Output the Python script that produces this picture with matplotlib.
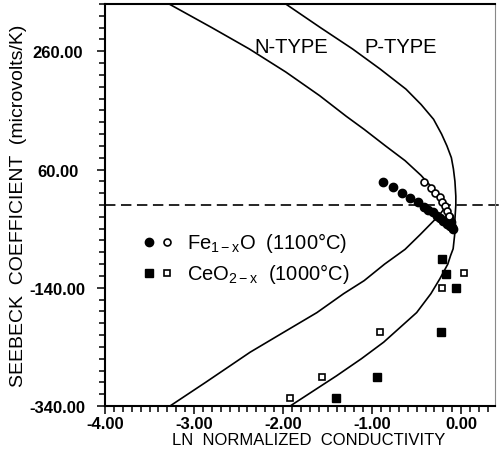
import matplotlib
matplotlib.use("Agg")
import matplotlib.pyplot as plt
from matplotlib.ticker import MultipleLocator, FormatStrFormatter

plt.rcParams['font.family'] = ['Liberation Sans', 'DejaVu Sans']
plt.rcParams['mathtext.fontset'] = 'custom'
plt.rcParams['mathtext.rm'] = 'Liberation Sans'
plt.rcParams['mathtext.it'] = 'Liberation Sans:italic'
plt.rcParams['mathtext.bf'] = 'Liberation Sans:bold'
plt.rcParams['mathtext.default'] = 'regular'
plt.rcParams['lines.scale_dashes'] = False

# ---- theoretical curves ----
curve_a_x = [-3.28, -2.80, -2.38, -1.97, -1.59, -1.29, -1.09, -0.85, -0.63, -0.45, -0.30,
             -0.24, -0.20, -0.175, -0.20, -0.24, -0.31, -0.46, -0.63, -0.86, -1.09, -1.32,
             -1.62, -1.99, -2.37, -2.87, -3.27]
curve_a_s = [340, 300, 264, 225, 185, 150, 128, 100, 75, 50, 25,
             16, 8, 0, -8, -16, -27, -50, -75, -100, -128, -150,
             -182, -215, -249, -300, -340]

curve_b_x = [-1.97, -1.58, -1.22, -0.91, -0.62, -0.45, -0.31, -0.22, -0.16, -0.11, -0.087,
             -0.07, -0.06, -0.06, -0.07, -0.07, -0.09, -0.12, -0.15, -0.24, -0.34, -0.50,
             -0.87, -1.12, -1.40, -1.92]
curve_b_s = [340, 300, 264, 230, 196, 170, 145, 120, 100, 80, 61,
             40, 15, 0, -24, -46, -74, -86, -100, -125, -150, -182,
             -232, -260, -289, -340]

# ---- Fe1-xO (1100 C) ----
fe_filled_x = [-0.88, -0.77, -0.67, -0.57, -0.49, -0.42, -0.37, -0.32, -0.27, -0.24,
               -0.20, -0.16, -0.13, -0.10, -0.14, -0.11, -0.09]
fe_filled_s = [39, 30, 20, 11, 4.5, -3, -8, -12.5, -18, -22.6,
               -26.7, -32, -35, -38, -20, -28, -41]
fe_open_x = [-0.42, -0.34, -0.29, -0.24, -0.21, -0.18, -0.16, -0.14]
fe_open_s = [39, 29, 21, 13, 5.5, -1.3, -9.7, -18]

# ---- CeO2-x (1000 C) ----
ce_filled_x = [-0.21, -0.17, -0.06, -0.225, -0.95, -1.41]
ce_filled_s = [-91.5, -117, -141, -215.5, -290.6, -326.7]
ce_open_x = [0.037, -0.21, -0.91, -1.56, -1.92]
ce_open_s = [-115, -141, -215.5, -290.6, -326.7]

xticks = [-4.0, -3.0, -2.0, -1.0, 0.0]
yticks = [-340.0, -140.0, 60.0, 260.0]

W, H = 499, 452
fig = plt.figure(figsize=(W / 100, H / 100), dpi=100)
ax = fig.add_axes([105 / W, 1 - 407 / H, 390 / W, 402 / H])

ax.plot(curve_a_x, curve_a_s, color='black', lw=1.2, zorder=2)
ax.plot(curve_b_x, curve_b_s, color='black', lw=1.2, zorder=2)

ax.plot([-4.0, 0.42], [0, 0], color='black', lw=1.2, dashes=(7.5, 4), clip_on=False, zorder=1)

ax.plot(fe_filled_x, fe_filled_s, 'o', ms=6, color='black', mec='black', zorder=3)
ax.plot(fe_open_x, fe_open_s, 'o', ms=5, mfc='white', mec='black', mew=1.2, zorder=4)
ax.plot(ce_filled_x, ce_filled_s, 's', ms=5.5, color='black', zorder=3)
ax.plot(ce_open_x, ce_open_s, 's', ms=5, mfc='white', mec='black', mew=1.2, zorder=3)

ax.set_xlim(-4.0, 0.38)
ax.set_ylim(-340, 340)
ax.set_xticks(xticks)
ax.set_yticks(yticks)
ax.xaxis.set_minor_locator(MultipleLocator(0.1))
ax.yaxis.set_minor_locator(MultipleLocator(20))
ax.xaxis.set_major_formatter(FormatStrFormatter('%.2f'))
ax.yaxis.set_major_formatter(FormatStrFormatter('%.2f'))
ax.tick_params(which='both', direction='out', top=False, right=False, width=1.1, color='black')
ax.tick_params(which='major', length=6, labelsize=12)
ax.tick_params(which='minor', length=4)
ax.tick_params(axis='x', which='major', pad=1)
ax.tick_params(axis='y', which='major', pad=28)
for lab in ax.get_xticklabels():
    lab.set_fontweight('bold')
for lab in ax.get_yticklabels():
    lab.set_fontweight('bold')
    lab.set_horizontalalignment('center')

for side in ['left', 'bottom', 'top']:
    ax.spines[side].set_linewidth(1.5)
ax.spines['right'].set_linewidth(0.8)
ax.spines['right'].set_color('#888888')

ax.set_xlabel('LN  NORMALIZED  CONDUCTIVITY', fontsize=12, labelpad=0)
ax.xaxis.set_label_coords(0.523, -0.065)
ax.set_ylabel('SEEBECK  COEFFICIENT  (microvolts/K)', fontsize=14, labelpad=2)

ax.text(0.477, 0.895, 'N-TYPE', transform=ax.transAxes, fontsize=14.5, ha='center', va='center')
ax.text(0.757, 0.895, 'P-TYPE', transform=ax.transAxes, fontsize=14.5, ha='center', va='center')

# legend built by hand
ax.plot([0.113], [0.408], 'o', ms=6, color='black', transform=ax.transAxes)
ax.plot([0.159], [0.408], 'o', ms=5, mfc='white', mec='black', mew=1.2, transform=ax.transAxes)
ax.plot([0.113], [0.331], 's', ms=5.5, color='black', transform=ax.transAxes)
ax.plot([0.159], [0.331], 's', ms=5, mfc='white', mec='black', mew=1.2, transform=ax.transAxes)
ax.text(0.211, 0.408, r'Fe$_{1-x}$O  (1100°C)', transform=ax.transAxes, fontsize=14.5, va='center')
ax.text(0.211, 0.331, r'CeO$_{2-x}$  (1000°C)', transform=ax.transAxes, fontsize=14.5, va='center')

fig.savefig('out.png', dpi=100)
